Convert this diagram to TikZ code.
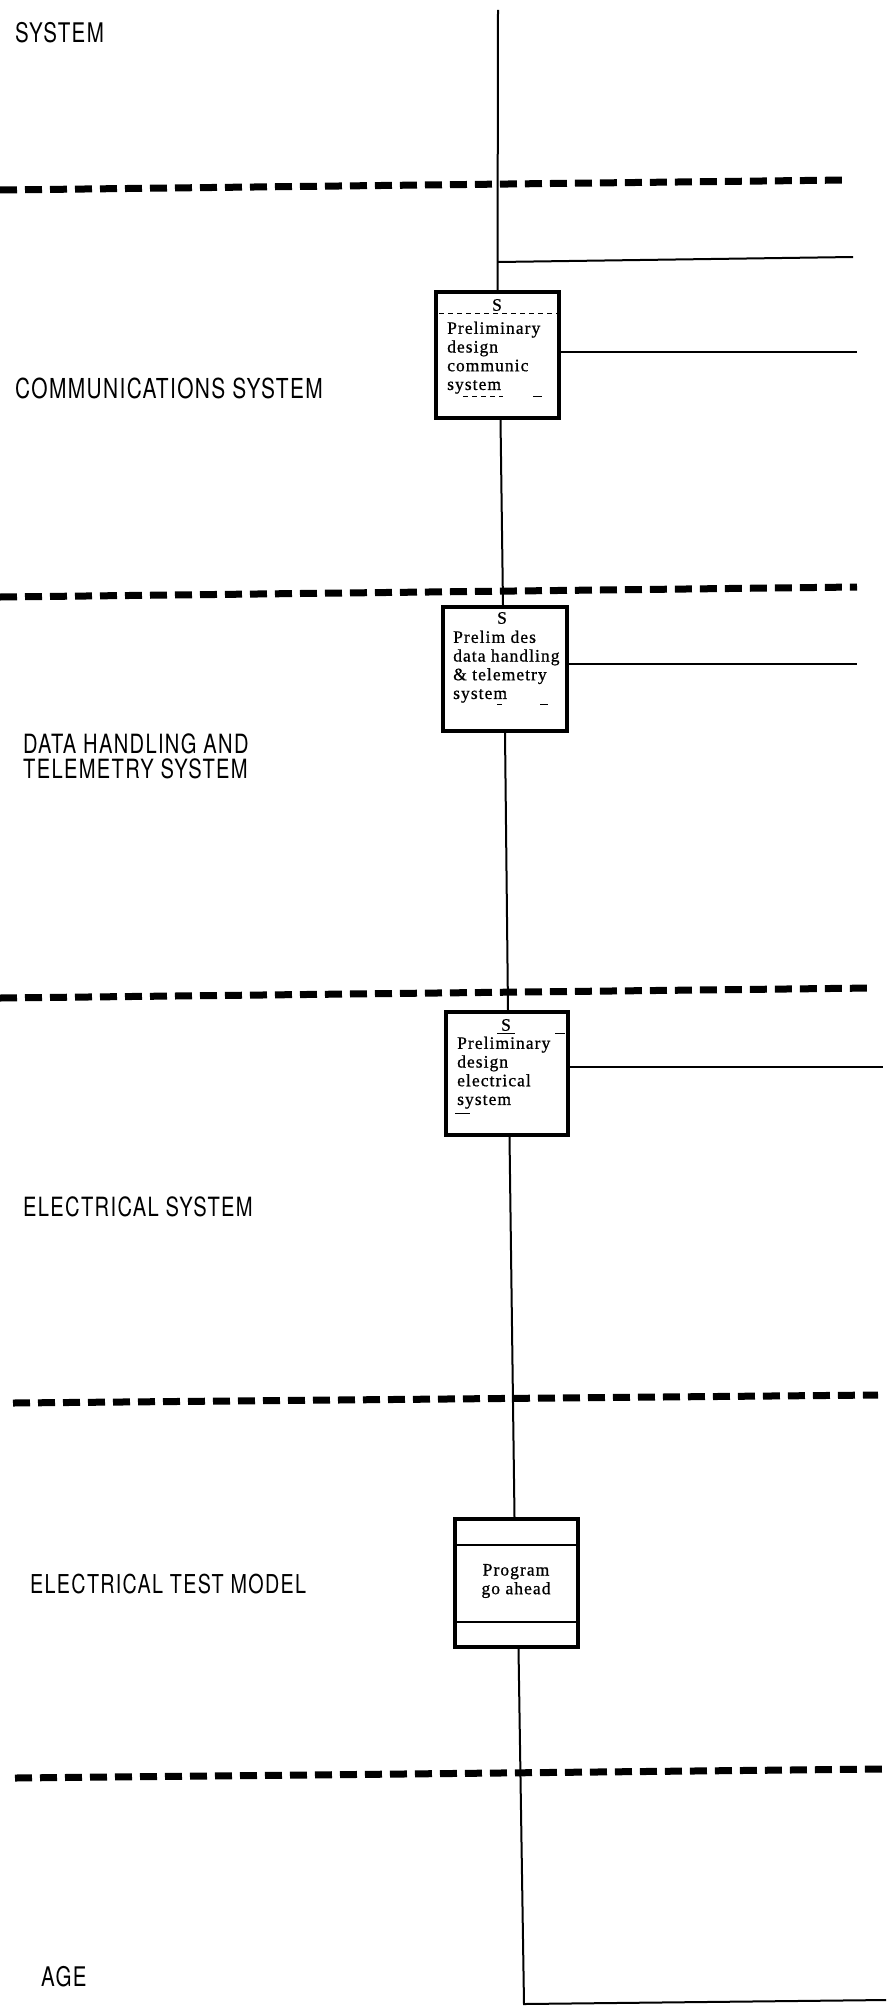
\documentclass[tikz,border=0pt]{standalone}
\usepackage{fontspec}
\newfontfamily\labfont[FakeStretch=0.76,LetterSpace=5]{TeX Gyre Heros}
\newfontfamily\boxfont[LetterSpace=6,FakeBold=0.8]{Liberation Serif}
\begin{document}
\begin{tikzpicture}[x=1pt,y=-1pt,
  sepline/.style={line width=7pt,dash pattern=on 17pt off 8pt},
  flow/.style={line width=2pt},
  taskbox/.style={draw,line width=3.5pt,inner sep=0pt,fill=white},
  thin/.style={line width=1pt},
  thindash/.style={line width=1pt,dash pattern=on 5pt off 4pt},
  lab/.style={anchor=base west,inner sep=0pt,align=left,font=\labfont},
  btext/.style={anchor=north west,inner sep=0pt,align=left,font=\boxfont\fontsize{17.5}{18.7}\selectfont},
  ctext/.style={anchor=center,inner sep=0pt,align=center,font=\boxfont\fontsize{17.5}{18.7}\selectfont}]
\useasboundingbox (0,0) rectangle (892,2012);
\fill[white] (0,0) rectangle (892,2012);

% section separators
\draw[sepline] (0,190) -- (847,180);
\draw[sepline] (0,597) -- (857,587);
\draw[sepline] (0,998) -- (873,988);
\draw[sepline] (13,1403) -- (878,1395);
\draw[sepline] (15,1778) -- (886,1769);

% section labels
\node[lab,font=\labfont\fontsize{27}{30}\selectfont] (l0) at (15,43) {SYSTEM};
\node[lab,font=\labfont\fontsize{27.5}{30}\selectfont] (l1) at (15,398) {COMMUNICATIONS SYSTEM};
\node[lab,font=\labfont\fontsize{26.5}{24.5}\selectfont] (l2) at (23,778) {DATA HANDLING AND\\TELEMETRY SYSTEM};
\node[lab,font=\labfont\fontsize{26.5}{24}\selectfont] (l3) at (23,1216) {ELECTRICAL SYSTEM};
\node[lab,font=\labfont\fontsize{26}{24}\selectfont] (l4) at (30,1593) {ELECTRICAL TEST MODEL};
\node[lab,font=\labfont\fontsize{27}{25}\selectfont] (l5) at (41,1986) {AGE};

% task boxes
\node[taskbox,minimum width=123pt,minimum height=126pt] (b1) at (497.5,355) {};
\node[taskbox,minimum width=124pt,minimum height=124pt] (b2) at (505,669) {};
\node[taskbox,minimum width=122pt,minimum height=123pt] (b3) at (507,1073.5) {};
\node[taskbox,minimum width=123pt,minimum height=128pt] (b4) at (516.5,1583) {};

% coordinates for connector ends
\coordinate (top) at (498,10);
\coordinate (j1) at (498,262);
\coordinate (e1) at (853,257);
\coordinate (e2) at (857,352);
\coordinate (e3) at (857,664);
\coordinate (e4) at (883,1067);
\coordinate (bot) at (524,2004);
\coordinate (e5) at (886,2000);

% connectors
\draw[flow] (top) -- (b1.north);
\draw[flow] (j1) -- (e1);
\draw[flow] ([xshift=3pt]b1.south) -- ([xshift=-2pt]b2.north);
\draw[flow] (b2.south) -- ([xshift=1pt]b3.north);
\draw[flow] ([xshift=2.5pt]b3.south) -- ([xshift=-2pt]b4.north);
\draw[flow] ([xshift=2pt]b4.south) -- (bot) -- (e5);
\draw[flow] (b1.east |- e2) -- (e2);
\draw[flow] (b2.east |- e3) -- (e3);
\draw[flow] (b3.east |- e4) -- (e4);

% box 1 contents
\node[ctext] (s1) at (497,305) {S};
\draw[thindash] (439,313) -- (557,313);
\node[btext] (t1) at (447,321.5) {Preliminary\\design\\communic\\system};
\draw[thindash] (463,396) -- (503,396);
\draw[thin] (533,396) -- (542,396);

% box 2 contents
\node[ctext] (s2) at (502,618) {S};
\node[btext] (t2) at (453,630.5) {Prelim des\\data handling\\\& telemetry\\system};
\draw[thin] (497,704) -- (502,704);
\draw[thin] (540,704) -- (548,704);

% box 3 contents
\node[ctext] (s3) at (506,1025) {S};
\draw[thin] (497,1033) -- (515,1033);
\draw[thin] (555,1033) -- (565,1033);
\node[btext] (t3) at (457,1036.5) {Preliminary\\design\\electrical\\system};
\draw[thin] (455,1113) -- (470,1113);

% box 4 contents
\draw[line width=2pt] (b4.west |- 0,1545) -- (b4.east |- 0,1545);
\draw[line width=2pt] (b4.west |- 0,1622) -- (b4.east |- 0,1622);
\node[ctext] (t4) at (516,1581) {Program\\go ahead};
\end{tikzpicture}
\end{document}
